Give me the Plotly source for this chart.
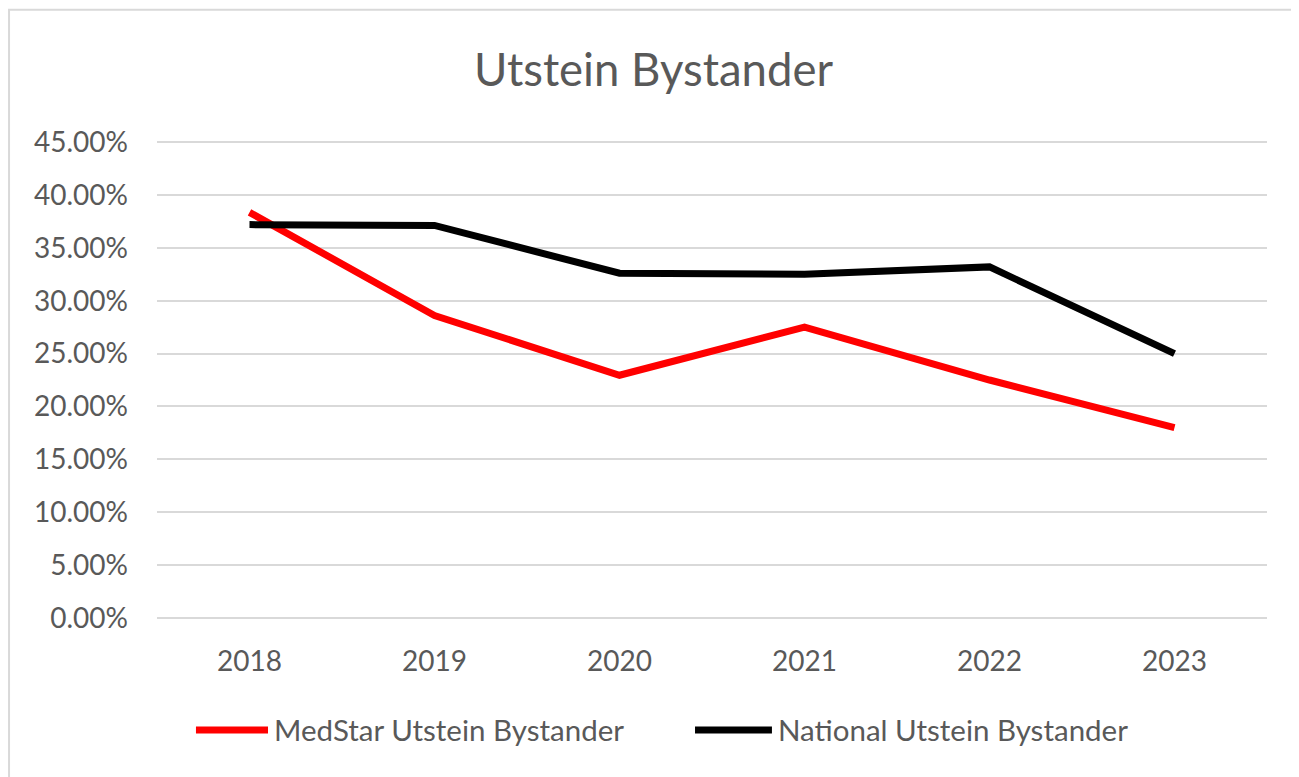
import plotly.graph_objects as go

years = ["2018", "2019", "2020", "2021", "2022", "2023"]
medstar = [0.3836, 0.2860, 0.2295, 0.2750, 0.2250, 0.1800]
national = [0.3720, 0.3712, 0.3260, 0.3250, 0.3320, 0.2500]
y_ticks = [0, 0.05, 0.10, 0.15, 0.20, 0.25, 0.30, 0.35, 0.40, 0.45]
y_labels = ["0.00%", "5.00%", "10.00%", "15.00%", "20.00%", "25.00%", "30.00%", "35.00%", "40.00%", "45.00%"]
series_names = ["MedStar Utstein Bystander", "National Utstein Bystander"]
series_colors = ["#FF0000", "#000000"]

FONT = "Lato"
GREY = "#595959"
LW = 7

fig = go.Figure()
for name, vals, col in zip(series_names, [medstar, national], series_colors):
    fig.add_trace(go.Scatter(x=years, y=vals, mode="lines", name=name,
                             line=dict(color=col, width=LW), showlegend=False))

# plot area is padded ~3px above/below so the 0% and 45% gridlines are drawn
PAD = 0.003
# manual legend (long line keys as in the reference)
legend_pos = [(0.0351, 0.100, 0.1036), (0.4847, 0.554, 0.5577)]
shapes = []
annotations = []
ly = -0.226
for (x0, x1, xt), name, col in zip(legend_pos, series_names, series_colors):
    shapes.append(dict(type="line", xref="paper", yref="paper", x0=x0, x1=x1, y0=ly, y1=ly,
                       line=dict(color=col, width=LW)))
    annotations.append(dict(text=name, xref="paper", yref="paper", x=xt, y=ly, xanchor="left",
                            yanchor="middle", showarrow=False,
                            font=dict(family=FONT, size=29.5, color=GREY)))

shapes.append(dict(type="rect", xref="paper", yref="paper", x0=-0.1333, x1=1.027, y0=-0.35, y1=1.268,
                   line=dict(color="#D9D9D9", width=2), fillcolor="rgba(0,0,0,0)", layer="below"))

fig.update_layout(
    width=1291, height=769,
    paper_bgcolor="white", plot_bgcolor="white",
    margin=dict(l=149, r=32, t=131, b=156),
    title=dict(text="Utstein Bystander", x=0.5, xanchor="center", y=0.919, yanchor="middle",
               font=dict(family=FONT, size=45.5, color=GREY)),
    font=dict(family=FONT, color=GREY),
    showlegend=False,
    xaxis=dict(type="category", range=[-0.5, 5.5], showgrid=False, showline=False,
               ticks="", ticklabelstandoff=21,
               tickfont=dict(family=FONT, size=28, color=GREY), zeroline=False),
    yaxis=dict(range=[-PAD, 0.45 + PAD], tickvals=y_ticks, ticktext=y_labels, showgrid=True,
               gridcolor="#D9D9D9", gridwidth=2, zeroline=False, showline=False, ticks="",
               ticklabelstandoff=28,
               tickfont=dict(family=FONT, size=28, color=GREY)),
    shapes=shapes,
    annotations=annotations,
)

fig.write_html("out.html")
